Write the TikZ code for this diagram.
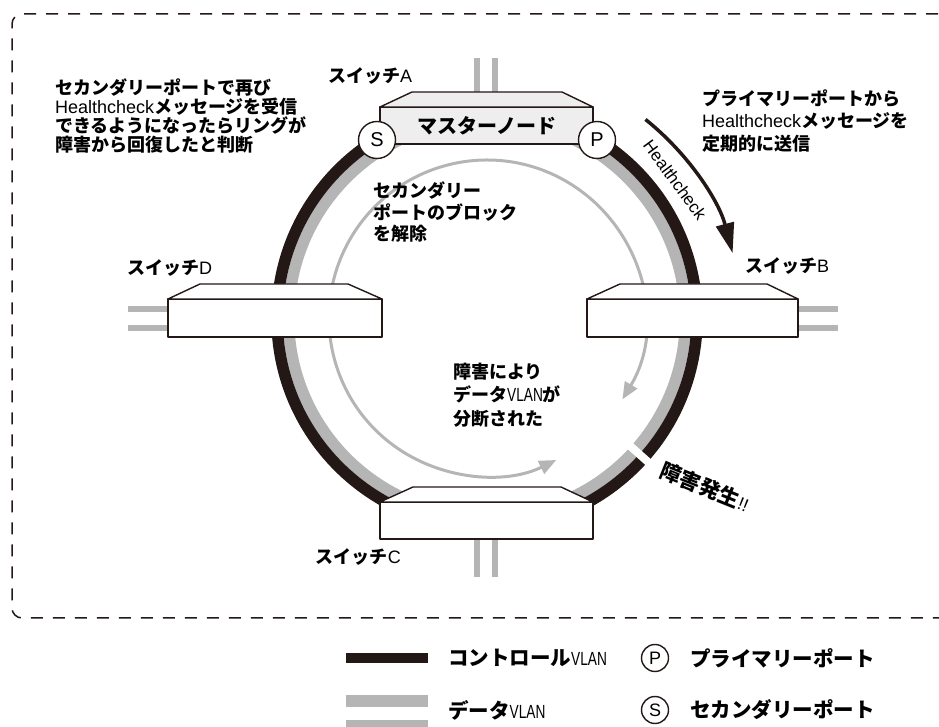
\documentclass[tikz,border=0pt]{standalone}
\usepackage{fontspec}
\setmainfont{Liberation Sans}
\newfontfamily\jpfont{Noto Sans CJK JP}
\usepackage{tkz-euclide}
\usetikzlibrary{arrows.meta}
\definecolor{ringblack}{HTML}{231815}
\definecolor{ringgray}{HTML}{B5B5B5}
\definecolor{boxgray}{HTML}{EEEEEE}
\newcommand{\en}[1]{{\normalfont #1}}
\newcommand{\vlan}{\en{\fontsize{19}{19}\selectfont\scalebox{0.72}[1]{VLAN}}}

\begin{document}
\begin{tikzpicture}[x=1pt, y=1pt,
    jp/.style={font=\jpfont\bfseries\fontsize{18}{18.7}\selectfont, inner sep=0pt, align=left},
    lg/.style={jp, anchor=west, font=\jpfont\bfseries\fontsize{20.5}{20.5}\selectfont},
    box/.style={draw=ringblack, line width=1.4pt, line join=round},
    cable/.style={ringgray, line width=6pt, line cap=butt},
    bar/.style={line width=#1, line cap=butt},
    port/.style={circle, draw=ringblack, line width=1.4pt, fill=white, inner sep=0pt,
      minimum size=37pt, font=\fontsize{20}{20}\selectfont},
    lgport/.style={port, minimum size=27pt, font=\fontsize{18}{18}\selectfont}]
    \useasboundingbox (0,0) rectangle (939,727);
    % \draw[help lines, step=50] (0,0) grid (939,727);
    \tkzDefPoints{487/409/O, 697/409/R1, 685.5/409/R2}
    \tkzDefPoints{622.4/327.6/T1, 556.3/267.0/T2}
    \tkzDefPoints{645.5/607.5/H1, 732.6/473.9/H2}
    \tkzDefPoints{625.7/285.0/K1, 654.0/259.7/K2}
    \tkzDefPoints{476.5/635/a1, 476.5/669/a2, 495/635/a3, 495/669/a4}
    \tkzDefPoints{476.5/188/c1, 476.5/150/c2, 495/188/c3, 495/150/c4}
    \tkzDefPoints{798/418/b1, 838/418/b2, 798/399/b3, 838/399/b4}
    \tkzDefPoints{168/418/d1, 128/418/d2, 168/399/d3, 128/399/d4}
    \tkzDefPoints{346/69/L1, 428/69/L2, 346/26/L3, 428/26/L4, 346/2/L5, 428/2/L6}

    % frame
    \draw[ringblack, line width=1.5pt, dash pattern=on 12pt off 10pt, rounded corners=10pt]
      (960,713) -- (12,713) -- (12,109) -- (960,109);

    % ring
    \tkzDrawCircle[ringgray, line width=11.5pt](O,R2)
    \tkzDrawCircle[ringblack, line width=11.5pt](O,R1)
    \tkzDrawSegment[white, bar=8pt](K1,K2)
    \draw[ringgray, line width=3pt,
      arrows={Triangle[length=17pt,width=14pt]-Triangle[length=17pt,width=14pt]}]
      (T1) arc[start angle=-31, end angle=296, radius=158];
    \draw[ringblack, line width=3.5pt, arrows={Triangle[length=30pt,width=18pt]-}]
      (H2) arc[start angle=14.8, end angle=51.4, radius=254];

    \tkzDrawSegments[cable](a1,a2 a3,a4 c1,c2 c3,c4 b1,b2 b3,b4 d1,d2 d3,d4)

    % switches
    \filldraw[box, fill=boxgray] (380,583) rectangle (593,620);
    \filldraw[box, fill=boxgray] (380,620) -- (412,635) -- (562,635) -- (593,620) -- cycle;
    \filldraw[box, fill=white] (587,390) rectangle (798,428);
    \filldraw[box, fill=white] (587,428) -- (620,443) -- (767,443) -- (798,428) -- cycle;
    \filldraw[box, fill=white] (168,390) rectangle (382,428);
    \filldraw[box, fill=white] (168,428) -- (200,443) -- (348,443) -- (382,428) -- cycle;
    \filldraw[box, fill=white] (380,188) rectangle (593,225);
    \filldraw[box, fill=white] (380,225) -- (413,240) -- (561,240) -- (593,225) -- cycle;

    \node[port] (P) at (597,587) {P};
    \node[port] (S) at (377,587) {S};
    \node[jp, font=\jpfont\bfseries\fontsize{20}{20}\selectfont] (master) at (487,601) {マスターノード};

    \node[jp, anchor=west] (swA) at (328,651) {スイッチ\en{A}};
    \node[jp, anchor=west] (swB) at (745,461) {スイッチ\en{B}};
    \node[jp, anchor=west] (swD) at (127,459) {スイッチ\en{D}};
    \node[jp, anchor=east] (swC) at (401,170) {スイッチ\en{C}};

    \node[rotate=-53.7, font=\fontsize{17}{17}\selectfont] (hc) at (675,547) {Healthcheck};

    \node[jp, anchor=west] (recover) at (55,611)
      {セカンダリーポートで再び\\\en{Healthcheck}メッセージを受信\\できるようになったらリングが\\障害から回復したと判断};
    \node[jp, anchor=west, font=\jpfont\bfseries\fontsize{18}{22.5}\selectfont] (send) at (702,606)
      {プライマリーポートから\\\en{Healthcheck}メッセージを\\定期的に送信};
    \node[jp, anchor=west, font=\jpfont\bfseries\fontsize{18}{21.5}\selectfont] (unblock) at (373,515)
      {セカンダリー\\ポートのブロック\\を解除};
    \node[jp, anchor=west, font=\jpfont\bfseries\fontsize{18}{23.5}\selectfont] (split) at (453,332)
      {障害により\\データ\vlan が\\分断された};
    \node[jp, rotate=-22, font=\jpfont\bfseries\fontsize{21}{21}\selectfont] (fault) at (705,240)
      {障害発生\en{\fontsize{18}{18}\selectfont!!}};

    % legend
    \tkzDrawSegment[ringblack, bar=10pt](L1,L2)
    \tkzDrawSegment[ringgray, bar=12pt](L3,L4)
    \tkzDrawSegment[ringgray, bar=9pt](L5,L6)
    \node[lg] (lgctl) at (448,69) {コントロール\vlan};
    \node[lg] (lgdata) at (448,17) {データ\vlan};
    \node[lgport] (lgP) at (655,69) {P};
    \node[lgport] (lgS) at (655,17) {S};
    \node[lg] (lgpri) at (690,69) {プライマリーポート};
    \node[lg] (lgsec) at (690,17) {セカンダリーポート};
\end{tikzpicture}
\end{document}
